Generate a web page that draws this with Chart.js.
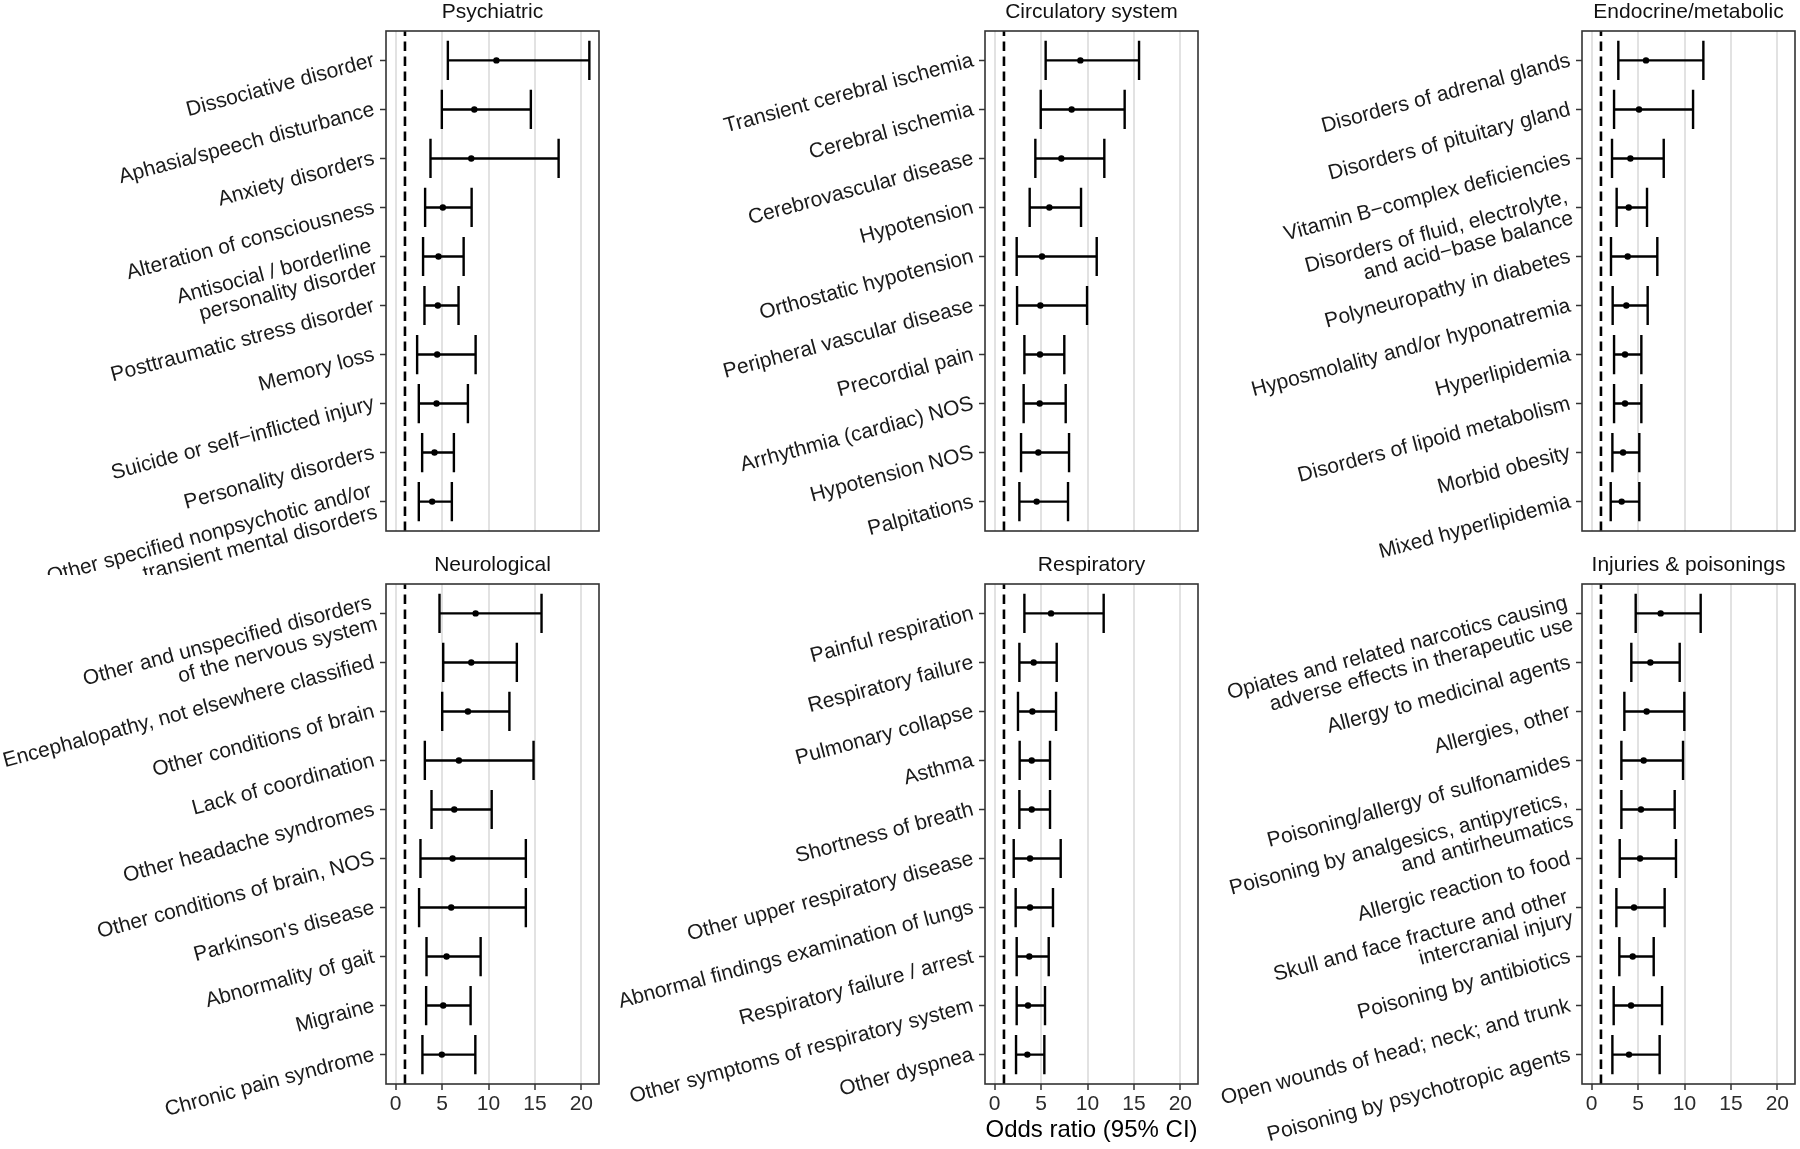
<!DOCTYPE html>
<html>
<head>
<meta charset="utf-8">
<script src="https://cdn.jsdelivr.net/npm/chart.js@4.4.1/dist/chart.umd.min.js"></script>
<style>
  html, body { margin: 0; padding: 0; background: #fff; width: 1800px; height: 1149px; overflow: hidden; }
  canvas { position: absolute; }
</style>
</head>
<body>
<canvas id="psych"></canvas>
<canvas id="circ"></canvas>
<canvas id="endo"></canvas>
<canvas id="neuro"></canvas>
<canvas id="resp"></canvas>
<canvas id="injury"></canvas>
<script>
// --- data (odds ratio with 95% CI), top to bottom in each panel ---
const psychLabels = ["Dissociative disorder", "Aphasia/speech disturbance", "Anxiety disorders",
  "Alteration of consciousness", ["Antisocial / borderline", "personality disorder"],
  "Posttraumatic stress disorder", "Memory loss", "Suicide or self\u2212inflicted injury",
  "Personality disorders", ["Other specified nonpsychotic and/or", "transient mental disorders"]];
const psychOR = [10.85, 8.47, 8.14, 5.08, 4.61, 4.54, 4.47, 4.40, 4.18, 3.93];
const psychLo = [5.62, 4.97, 3.75, 3.17, 2.95, 3.10, 2.31, 2.49, 2.85, 2.49];
const psychHi = [20.86, 14.56, 17.55, 8.18, 7.32, 6.77, 8.61, 7.78, 6.27, 6.05];

const circLabels = ["Transient cerebral ischemia", "Cerebral ischemia", "Cerebrovascular disease",
  "Hypotension", "Orthostatic hypotension", "Peripheral vascular disease", "Precordial pain",
  "Arrhythmia (cardiac) NOS", "Hypotension NOS", "Palpitations"];
const circOR = [9.23, 8.29, 7.18, 5.89, 5.10, 4.92, 4.88, 4.85, 4.70, 4.52];
const circLo = [5.49, 4.96, 4.38, 3.77, 2.37, 2.41, 3.20, 3.12, 2.84, 2.66];
const circHi = [15.55, 14.00, 11.81, 9.30, 10.99, 9.95, 7.50, 7.65, 8.01, 7.90];

const endoLabels = ["Disorders of adrenal glands", "Disorders of pituitary gland",
  "Vitamin B\u2212complex deficiencies", ["Disorders of fluid, electrolyte,", "and acid\u2212base balance"],
  "Polyneuropathy in diabetes", "Hyposmolality and/or hyponatremia", "Hyperlipidemia",
  "Disorders of lipoid metabolism", "Morbid obesity", "Mixed hyperlipidemia"];
const endoOR = [5.85, 5.10, 4.17, 3.99, 3.88, 3.73, 3.59, 3.59, 3.38, 3.23];
const endoLo = [2.87, 2.41, 2.19, 2.69, 2.08, 2.26, 2.41, 2.41, 2.23, 2.05];
const endoHi = [12.03, 10.92, 7.76, 5.96, 7.07, 6.03, 5.35, 5.35, 5.13, 5.13];

const neuroLabels = [["Other and unspecified disorders", "of the nervous system"],
  "Encephalopathy, not elsewhere classified", "Other conditions of brain", "Lack of coordination",
  "Other headache syndromes", "Other conditions of brain, NOS", "Parkinson's disease",
  "Abnormality of gait", "Migraine", "Chronic pain syndrome"];
const neuroOR = [8.61, 8.14, 7.78, 6.81, 6.31, 6.13, 5.98, 5.48, 5.12, 4.97];
const neuroLo = [4.72, 5.12, 5.01, 3.14, 3.86, 2.67, 2.52, 3.32, 3.28, 2.88];
const neuroHi = [15.71, 13.05, 12.25, 14.85, 10.34, 14.02, 14.02, 9.15, 8.07, 8.58];

const respLabels = ["Painful respiration", "Respiratory failure", "Pulmonary collapse", "Asthma",
  "Shortness of breath", "Other upper respiratory disease", "Abnormal findings examination of lungs",
  "Respiratory failure / arrest", "Other symptoms of respiratory system", "Other dyspnea"];
const respOR = [6.07, 4.20, 4.06, 3.99, 3.99, 3.81, 3.81, 3.73, 3.59, 3.52];
const respLo = [3.20, 2.66, 2.51, 2.69, 2.66, 2.05, 2.26, 2.37, 2.37, 2.30];
const respHi = [11.74, 6.68, 6.61, 5.96, 5.96, 7.11, 6.28, 5.82, 5.42, 5.35];

const injuryLabels = [["Opiates and related narcotics causing", "adverse effects in therapeutic use"],
  "Allergy to medicinal agents", "Allergies, other", "Poisoning/allergy of sulfonamides",
  ["Poisoning by analgesics, antipyretics,", "and antirheumatics"], "Allergic reaction to food",
  ["Skull and face fracture and other", "intercranial injury"], "Poisoning by antibiotics",
  "Open wounds of head; neck; and trunk", "Poisoning by psychotropic agents"];
const injuryOR = [7.43, 6.32, 5.92, 5.60, 5.31, 5.21, 4.56, 4.42, 4.24, 4.02];
const injuryLo = [4.74, 4.27, 3.52, 3.20, 3.20, 3.02, 2.66, 2.98, 2.37, 2.23];
const injuryHi = [11.74, 9.48, 9.98, 9.84, 8.94, 9.08, 7.86, 6.68, 7.58, 7.32];

const xTicks = [0, 5, 10, 15, 20];
const refOR = 1;

const FONT = "'Liberation Sans', Arial, sans-serif";

// error bars, reference line and panel border
const forestPlugin = {
  id: "forest",
  beforeDatasetsDraw(chart) {
    const { ctx, chartArea: a, scales: { x, y } } = chart;
    const ds = chart.data.datasets[0];
    ctx.save();
    const xr = x.getPixelForValue(refOR);
    ctx.beginPath();
    ctx.setLineDash([9.5, 5.5]);
    ctx.lineWidth = 2.6;
    ctx.strokeStyle = "#000";
    ctx.moveTo(xr, a.bottom);
    ctx.lineTo(xr, a.top);
    ctx.stroke();
    ctx.setLineDash([]);
    ctx.lineWidth = 2.4;
    ds.lo.forEach((lo, i) => {
      const xl = x.getPixelForValue(lo);
      const xh = x.getPixelForValue(ds.hi[i]);
      const yc = y.getPixelForValue(i);
      const y0 = y.getPixelForValue(i - 0.4);
      const y1 = y.getPixelForValue(i + 0.4);
      ctx.beginPath();
      ctx.moveTo(xl, yc); ctx.lineTo(xh, yc);
      ctx.moveTo(xl, y0); ctx.lineTo(xl, y1);
      ctx.moveTo(xh, y0); ctx.lineTo(xh, y1);
      ctx.stroke();
    });
    ctx.restore();
  },
  afterDraw(chart) {
    const { ctx, chartArea: a } = chart;
    ctx.save();
    ctx.lineWidth = 1.6;
    ctx.strokeStyle = "#333";
    ctx.strokeRect(a.left, a.top, a.right - a.left, a.bottom - a.top);
    ctx.restore();
  }
};

function makePanel(p) {
  const cv = document.getElementById(p.id);
  cv.width = p.w;
  cv.height = p.h;
  cv.style.left = p.x + "px";
  cv.style.top = p.y + "px";
  const bottom = p.row === 1;
  const yWidth = p.boxLeft - p.x;
  return new Chart(cv, {
    type: "scatter",
    data: {
      datasets: [{
        data: p.or.map((v, i) => ({ x: v, y: i })),
        lo: p.lo,
        hi: p.hi,
        pointRadius: 3.2,
        pointHoverRadius: 3.2,
        backgroundColor: "#000",
        borderWidth: 0
      }]
    },
    options: {
      responsive: false,
      animation: false,
      events: [],
      layout: { padding: { left: 0, right: p.x + p.w - p.boxRight, top: p.padTop, bottom: p.padBottom } },
      plugins: {
        legend: { display: false },
        tooltip: { enabled: false },
        title: {
          display: true,
          text: p.title,
          fullSize: false,
          color: "#111",
          font: { family: FONT, size: 21, weight: "normal" },
          padding: { top: 0, bottom: p.titleGap }
        }
      },
      scales: {
        x: {
          type: "linear",
          min: -1.043,
          max: 21.9,
          afterFit: (s) => { s.height = p.xHeight; },
          afterBuildTicks: (s) => { s.ticks = xTicks.map(v => ({ value: v })); },
          ticks: {
            display: bottom,
            padding: 2,
            maxRotation: 0,
            color: "#2b2b2b",
            font: { family: FONT, size: 21 }
          },
          grid: {
            color: "#e2e2e2",
            lineWidth: 2,
            drawTicks: bottom,
            tickLength: 6,
            tickColor: "#333",
            tickWidth: 1.5
          },
          border: { display: false },
          title: {
            display: !!p.xTitle,
            text: p.xTitle || "",
            color: "#000",
            font: { family: FONT, size: 24 },
            padding: { top: 0, bottom: 1 }
          }
        },
        y: {
          type: "linear",
          reverse: true,
          min: -0.6,
          max: 9.6,
          afterFit: (s) => { s.width = yWidth; },
          ticks: {
            stepSize: 1,
            includeBounds: false,
            autoSkip: false,
            minRotation: 15,
            maxRotation: 15,
            padding: 6,
            color: "#1a1a1a",
            font: { family: FONT, size: 21, lineHeight: 1.05 },
            callback: (v) => (Number.isInteger(v) ? p.labels[v] : "")
          },
          grid: {
            drawOnChartArea: false,
            drawTicks: true,
            tickLength: 6,
            tickColor: "#333",
            tickWidth: 1.5,
            color: "#333"
          },
          border: { display: false }
        }
      }
    },
    plugins: [forestPlugin]
  });
}

const topRow = { row: 0, y: 0, h: 575, padTop: 0, titleGap: 5.8, xHeight: 0, padBottom: 44 };
const botRow = { row: 1, y: 545, h: 604, padTop: 7.4, titleGap: 6.4, xHeight: 62, padBottom: 3 };
const cols = [
  { x: 0, w: 605, boxLeft: 386, boxRight: 599 },
  { x: 600, w: 605, boxLeft: 985, boxRight: 1198 },
  { x: 1205, w: 595, boxLeft: 1582, boxRight: 1795 }
];

makePanel({ id: "psych", title: "Psychiatric", labels: psychLabels, or: psychOR, lo: psychLo, hi: psychHi, ...topRow, ...cols[0] });
makePanel({ id: "circ", title: "Circulatory system", labels: circLabels, or: circOR, lo: circLo, hi: circHi, ...topRow, ...cols[1] });
makePanel({ id: "endo", title: "Endocrine/metabolic", labels: endoLabels, or: endoOR, lo: endoLo, hi: endoHi, ...topRow, ...cols[2] });
makePanel({ id: "neuro", title: "Neurological", labels: neuroLabels, or: neuroOR, lo: neuroLo, hi: neuroHi, ...botRow, ...cols[0] });
makePanel({ id: "resp", title: "Respiratory", labels: respLabels, or: respOR, lo: respLo, hi: respHi, xTitle: "Odds ratio (95% CI)", ...botRow, ...cols[1] });
makePanel({ id: "injury", title: "Injuries & poisonings", labels: injuryLabels, or: injuryOR, lo: injuryLo, hi: injuryHi, ...botRow, ...cols[2] });
</script>
</body>
</html>
